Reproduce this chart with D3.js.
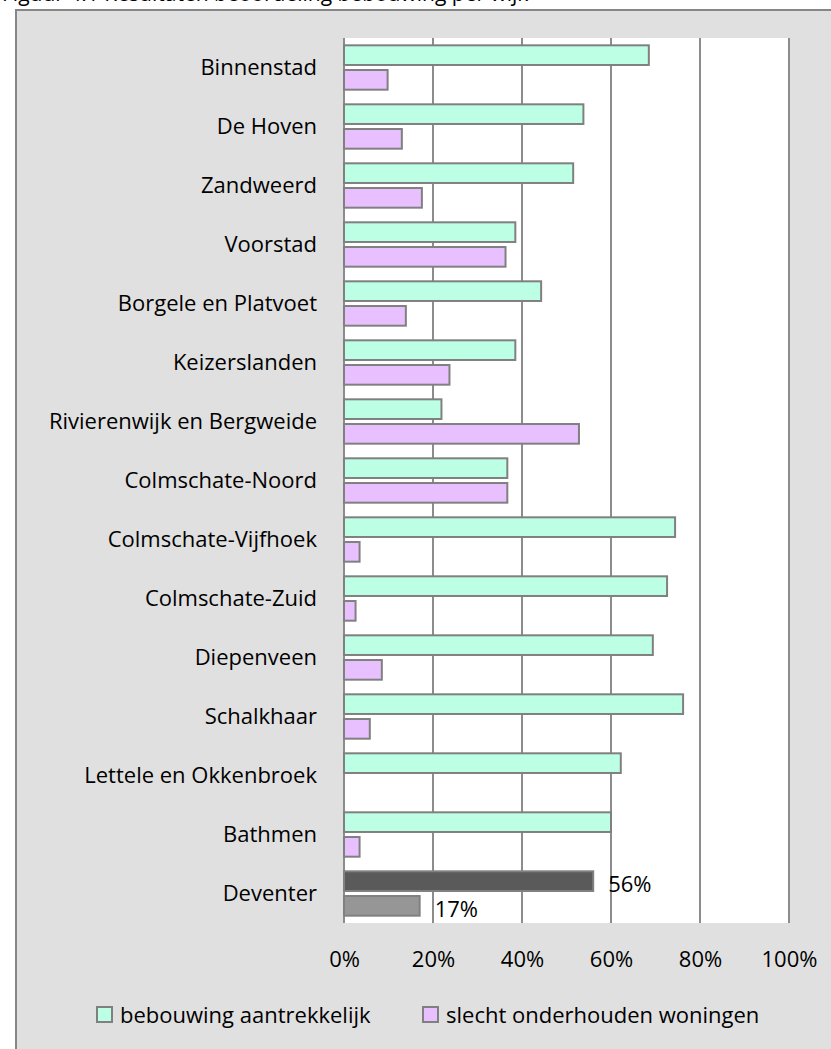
<!DOCTYPE html>
<html>
<head>
<meta charset="utf-8">
<script src="https://cdn.jsdelivr.net/npm/d3@7"></script>
<style>
  body { margin: 0; background: #fff; }
  svg { display: block; }
</style>
</head>
<body>
<div id="chart"></div>
<script>
const wijken = [
  "Binnenstad", "De Hoven", "Zandweerd", "Voorstad", "Borgele en Platvoet",
  "Keizerslanden", "Rivierenwijk en Bergweide", "Colmschate-Noord",
  "Colmschate-Vijfhoek", "Colmschate-Zuid", "Diepenveen", "Schalkhaar",
  "Lettele en Okkenbroek", "Bathmen", "Deventer"
]
const aantrekkelijk = [68.5, 53.8, 51.5, 38.5, 44.3, 38.5, 21.9, 36.7, 74.4, 72.6, 69.4, 76.2, 62.2, 60, 56]
const slechtOnderhouden = [9.8, 13, 17.5, 36.3, 13.9, 23.7, 52.8, 36.7, 3.5, 2.6, 8.5, 5.8, 0, 3.5, 17]
const seriesNames = ["bebouwing aantrekkelijk", "slecht onderhouden woningen"]
const xTicks = [0, 20, 40, 60, 80, 100]
const totalLabel = "Deventer"

const W = 831, H = 1049
const FONT = "'Open Sans', sans-serif"
const plot = {left: 344, right: 789, top: 38, bottom: 923}
const fills = ["#bdffe5", "#e8c0ff"]
const totalFills = ["#5a5a5a", "#969696"]
const stroke = "#808080"

const svg = d3.select("#chart").append("svg")
  .attr("width", W)
  .attr("height", H)
  .style("font-family", FONT)

// title, mostly cut off by the top of the picture
svg.append("text")
  .attr("x", 2)
  .attr("y", 1)
  .attr("font-size", 21)
  .attr("fill", "#000")
  .text("Figuur 4.1 Resultaten beoordeling bebouwing per wijk")

// chart frame
svg.append("rect")
  .attr("x", 16)
  .attr("y", 10)
  .attr("width", 900)
  .attr("height", 1100)
  .attr("fill", "#e0e0e0")
  .attr("stroke", "#868686")
  .attr("stroke-width", 2)

svg.append("rect")
  .attr("x", plot.left)
  .attr("y", plot.top)
  .attr("width", plot.right - plot.left)
  .attr("height", plot.bottom - plot.top)
  .attr("fill", "#fff")

const x = d3.scaleLinear()
  .domain([0, 100])
  .range([plot.left, plot.right])

const y = d3.scaleBand()
  .domain(wijken)
  .range([plot.top, plot.bottom])

const ySub = d3.scaleBand()
  .domain([0, 1])
  .range([0, y.bandwidth()])
  .paddingInner(0.204)
  .paddingOuter(0.296)

// gridlines
svg.append("g")
  .selectAll("line")
  .data(xTicks)
  .join("line")
    .attr("x1", d => x(d))
    .attr("x2", d => x(d))
    .attr("y1", plot.top)
    .attr("y2", plot.bottom)
    .attr("stroke", "#8c8c8c")
    .attr("stroke-width", 2)

// x axis labels
const xAxis = svg.append("g")
  .attr("transform", `translate(0,${plot.bottom})`)
  .call(d3.axisBottom(x)
    .tickValues(xTicks)
    .tickSize(0)
    .tickPadding(0)
    .tickFormat(d => d + "%"))
xAxis.select(".domain").remove()
xAxis.selectAll("text")
  .attr("y", 44)
  .attr("dy", 0)
  .attr("font-family", FONT)
  .attr("font-size", 22)
  .attr("fill", "#000")

// category labels
svg.append("g")
  .selectAll("text")
  .data(wijken)
  .join("text")
    .attr("x", 317)
    .attr("y", d => y(d) + y.bandwidth() / 2)
    .attr("dy", "0.36em")
    .attr("text-anchor", "end")
    .attr("font-size", 22)
    .attr("fill", "#000")
    .text(d => d)

const rows = wijken.map((w, i) => ({wijk: w, values: [aantrekkelijk[i], slechtOnderhouden[i]]}))

const groups = svg.append("g")
  .selectAll("g")
  .data(rows)
  .join("g")
    .attr("transform", d => `translate(0,${y(d.wijk)})`)

groups.selectAll("rect")
  .data(d => d.values.map((v, s) => ({wijk: d.wijk, v, s})).filter(e => e.v > 0))
  .join("rect")
    .attr("x", x(0))
    .attr("y", d => ySub(d.s))
    .attr("width", d => x(d.v) - x(0))
    .attr("height", ySub.bandwidth())
    .attr("fill", d => d.wijk == totalLabel ? totalFills[d.s] : fills[d.s])
    .attr("stroke", stroke)
    .attr("stroke-width", 2)

// value labels on the Deventer total only
groups.filter(d => d.wijk == totalLabel)
  .selectAll("text")
  .data(d => d.values.map((v, s) => ({v, s})))
  .join("text")
    .attr("x", d => x(d.v) + 15)
    .attr("y", d => ySub(d.s) + ySub.bandwidth() + 1)
    .attr("font-size", 22)
    .attr("fill", "#000")
    .text(d => Math.round(d.v) + "%")

// legend
const legendX = [97, 423]
const legend = svg.append("g")
  .selectAll("g")
  .data(seriesNames)
  .join("g")
    .attr("transform", (d, i) => `translate(${legendX[i]},1007)`)
legend.append("rect")
  .attr("width", 15)
  .attr("height", 15)
  .attr("fill", (d, i) => fills[i])
  .attr("stroke", stroke)
  .attr("stroke-width", 2)
legend.append("text")
  .attr("x", 23)
  .attr("y", 16)
  .attr("font-size", 22)
  .attr("fill", "#000")
  .text(d => d)
</script>
</body>
</html>
